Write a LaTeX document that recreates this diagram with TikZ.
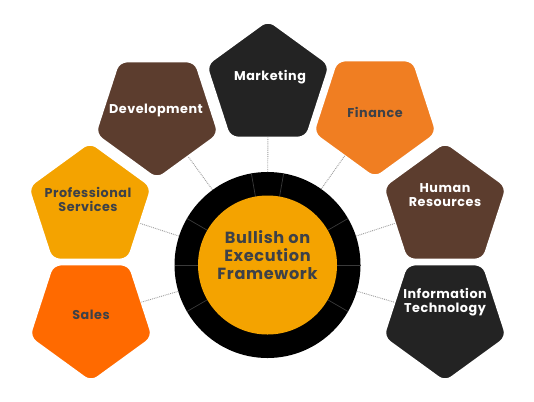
\documentclass[tikz,border=0pt]{standalone}
\usepackage{fontspec}
\setmainfont{Poppins}
\usetikzlibrary{shapes.geometric,calc}
\definecolor{darkshape}{HTML}{232323}
\definecolor{brownshape}{HTML}{5C3D2E}
\definecolor{financeor}{HTML}{F07E22}
\definecolor{amber}{HTML}{F4A300}
\definecolor{salesor}{HTML}{FF6A00}
\definecolor{slatetext}{HTML}{3D4148}
\definecolor{connector}{HTML}{9A9A9A}
\definecolor{divider}{HTML}{3A3A3A}
\newcommand{\pentfont}{\bfseries\fontsize{12.8}{14}\selectfont\addfontfeature{LetterSpace=4}}
\newcommand{\corefont}{\bfseries\fontsize{16.2}{17.7}\selectfont\addfontfeature{LetterSpace=4}}
\tikzset{
  pent/.style={regular polygon, regular polygon sides=5, minimum size=130bp,
    inner sep=0pt, outer sep=0pt, rounded corners=8bp, draw=white, line width=2bp},
  pentdown/.style={pent, shape border rotate=180},
  lighttext/.style={text=white, font=\pentfont, align=center},
  darktext/.style={text=slatetext, font=\pentfont, align=center},
  conn/.style={draw=connector, line width=0.9bp, densely dotted},
  divline/.style={draw=divider, line width=0.7bp}
}
\begin{document}
\begin{tikzpicture}[x=1bp,y=-1bp]
\useasboundingbox (0,0) rectangle (534,401);
% ring
\node[circle, fill=black, minimum size=186bp, inner sep=0pt, outer sep=0pt] (ring) at (267.5,265) {};
\foreach \a in {0,30,80,100,150,180,210,330}{
  \draw[divline] ($(ring.center)+(\a:69bp)$) -- ($(ring.center)+(\a:93bp)$);
}
\node[circle, fill=amber, minimum size=139bp, inner sep=0pt] (core) at (267.5,265) {};
\node[text=slatetext, font=\corefont, align=center] (coretext) at (267.5,255) {Bullish on\\Execution\\Framework};
% pentagons
\node[pentdown, fill=salesor] (sales) at (91,317) {};
\node[pent, fill=amber] (ps) at (90,207) {};
\node[pentdown, fill=brownshape] (dev) at (157,114) {};
\node[pentdown, fill=darkshape] (it) at (445,317) {};
\node[pent, fill=brownshape] (hr) at (445,207) {};
\node[pentdown, fill=financeor] (fin) at (375,113) {};
\node[pent, fill=darkshape] (mkt) at (268,85) {};
% connectors
\foreach \p in {sales,ps,dev,it,hr,fin,mkt}{
  \draw[conn] (ring) -- (\p);
}
% labels
\node[lighttext] (mktt) at (270,77) {Marketing};
\node[lighttext] (devt) at (156,110) {Development};
\node[darktext] (fint) at (375,112) {Finance};
\node[darktext] (pst) at (88,199) {Professional\\Services};
\node[lighttext] (hrt) at (445,195) {Human\\Resources};
\node[darktext] (salest) at (91,315) {Sales};
\node[lighttext] (itt) at (445,302) {Information\\Technology};
\end{tikzpicture}
\end{document}
